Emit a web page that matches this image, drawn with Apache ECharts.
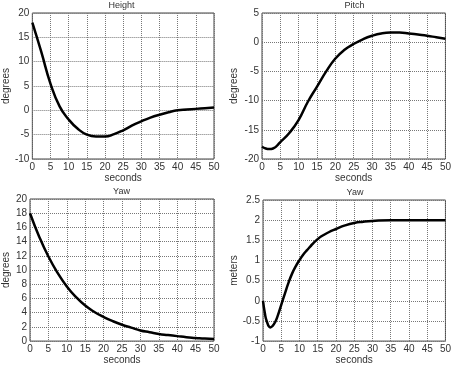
<!DOCTYPE html>
<html>
<head>
<meta charset="utf-8">
<script src="https://cdn.jsdelivr.net/npm/echarts@6/dist/echarts.min.js"></script>
<style>html,body{margin:0;padding:0;background:#fff;}#c{width:454px;height:366px;}</style>
</head>
<body>
<div id="c"></div>
<script>
// Time samples (seconds) and values
var heightT = [0, 1, 2.5, 5, 7.5, 10, 12.5, 15, 17.5, 20, 22.5, 25, 27.5, 30, 32.5, 35, 37.5, 40, 42.5, 45, 47.5, 50];
var heightV = [18, 15.6, 11.9, 5.45, 0.8, -1.9, -3.8, -5.0, -5.4, -5.4, -4.9, -4.1, -3.1, -2.25, -1.5, -0.9, -0.4, 0, 0.15, 0.3, 0.45, 0.6];

var pitchT = [0, 1, 2, 3, 5, 7.5, 10, 12.5, 15, 17.5, 20, 22.5, 25, 27.5, 30, 32.5, 35, 37.5, 40, 42.5, 45, 47.5, 50];
var pitchV = [-17.9, -18.2, -18.3, -18.2, -17.1, -15.5, -13.3, -10.2, -7.6, -5.0, -2.8, -1.3, -0.3, 0.5, 1.1, 1.5, 1.65, 1.65, 1.5, 1.3, 1.1, 0.85, 0.6];

var yawT = [0, 2.5, 5, 7.5, 10, 12.5, 15, 17.5, 20, 22.5, 25, 27.5, 30, 32.5, 35, 37.5, 40, 42.5, 45, 47.5, 50];
var yawV = [18, 14.7, 11.9, 9.6, 7.7, 6.2, 5.0, 4.1, 3.4, 2.8, 2.3, 1.9, 1.5, 1.25, 1.0, 0.85, 0.7, 0.55, 0.45, 0.35, 0.3];

var yawMT = [0, 0.5, 1, 2, 3, 4, 5, 6, 7, 8, 9, 10, 11, 12, 13, 14, 15, 16, 18, 20, 22.5, 25, 27.5, 30, 35, 40, 45, 50];
var yawMV = [0, -0.3, -0.5, -0.66, -0.58, -0.38, -0.1, 0.18, 0.45, 0.68, 0.86, 1.01, 1.14, 1.25, 1.35, 1.45, 1.53, 1.6, 1.7, 1.78, 1.87, 1.93, 1.96, 1.98, 2.0, 2.0, 2.0, 2.0];

var titles = ['Height', 'Pitch', 'Yaw', 'Yaw'];
var yNames = ['degrees', 'degrees', 'degrees', 'meters'];
var xName = 'seconds';
var yRanges = [[-10, 20, 5], [-20, 5, 5], [0, 20, 2], [-1, 2.5, 0.5]];

function pairs(t, v) { return t.map(function (x, i) { return [x, v[i]]; }); }
var seriesData = [pairs(heightT, heightV), pairs(pitchT, pitchV), pairs(yawT, yawV), pairs(yawMT, yawMV)];

var grids = [
  {left: 29, top: 13, width: 185, height: 146},
  {left: 262, top: 13, width: 185, height: 146},
  {left: 29, top: 199, width: 185, height: 146},
  {left: 263, top: 200, width: 184, height: 146}
];
var yGaps = [19, 23, 19, 24];
var xGaps = [12, 12, 13, 13];
var font = 'Liberation Sans, Arial, sans-serif';

var option = {
  animation: false,
  backgroundColor: '#fff',
  title: grids.map(function (g, i) {
    return {text: titles[i], left: g.left + g.width / 2, top: g.top - 12, textAlign: 'center', padding: 0,
      textStyle: {fontSize: 9, fontWeight: 'normal', color: '#333', fontFamily: font}};
  }),
  grid: grids.map(function (g) {
    return {left: g.left, top: g.top, width: g.width, height: g.height, show: true,
      borderColor: '#444', borderWidth: 1, backgroundColor: 'transparent'};
  }),
  xAxis: grids.map(function (g, i) {
    return {type: 'value', gridIndex: i, min: 0, max: 50, interval: 5,
      name: xName, nameLocation: 'middle', nameGap: xGaps[i],
      nameTextStyle: {fontSize: 10, color: '#333', fontFamily: font},
      axisLine: {show: false}, axisTick: {show: false},
      axisLabel: {fontSize: 10, color: '#333', margin: 3, fontFamily: font},
      splitLine: {show: true, lineStyle: {type: 'dotted', color: '#777', width: 1}}};
  }),
  yAxis: grids.map(function (g, i) {
    return {type: 'value', gridIndex: i, min: yRanges[i][0], max: yRanges[i][1], interval: yRanges[i][2],
      name: yNames[i], nameLocation: 'middle', nameGap: yGaps[i],
      nameTextStyle: {fontSize: 10, color: '#333', fontFamily: font},
      axisLine: {show: false}, axisTick: {show: false},
      axisLabel: {fontSize: 10, color: '#333', margin: 3, fontFamily: font},
      splitLine: {show: true, lineStyle: {type: 'dotted', color: '#777', width: 1}}};
  }),
  series: seriesData.map(function (d, i) {
    return {type: 'line', xAxisIndex: i, yAxisIndex: i, data: d, smooth: 0.5, showSymbol: false,
      lineStyle: {color: '#000', width: 2.5}};
  })
};

echarts.init(document.getElementById('c'), null, {renderer: 'canvas'}).setOption(option);
</script>
</body>
</html>
